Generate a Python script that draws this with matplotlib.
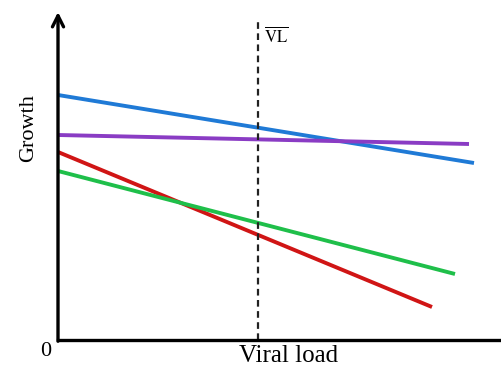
import matplotlib.pyplot as plt

# growth vs viral load, straight lines given by their end points
names = ["blue", "purple", "red", "green"]
x_start = [0.0, 0.0, 0.0, 0.0]
x_end = [10.4, 10.275, 9.35, 9.925]
y_start = [6.125, 5.125, 4.7, 4.225]
y_end = [4.425, 4.9, 0.825, 1.65]
colors = ["#1f7ad6", "#8a3cc4", "#d01515", "#1fbf4a"]
vl_mean = 5.0

plt.rcParams['font.family'] = ['Liberation Serif', 'DejaVu Serif']
plt.rcParams['mathtext.fontset'] = 'stix'

fig = plt.figure(figsize=(5.01, 3.68), dpi=100)
ax = fig.add_axes([58 / 501, 28 / 368, 443 / 501, 328 / 368])
ax.set_xlim(0, 11.075)
ax.set_ylim(0, 8.2)

for i in range(len(names)):
    ax.plot([x_start[i], x_end[i]], [y_start[i], y_end[i]], color=colors[i], lw=2.8, solid_capstyle='butt')

ax.axvline(vl_mean, ymax=0.97, color='#222222', lw=1.6, ls=(0, (3, 2)))
ax.text(vl_mean + 0.15, 7.6, r'$\overline{\mathrm{VL}}$', fontsize=12, va='center')

for s in ['top', 'right', 'left']:
    ax.spines[s].set_visible(False)
ax.spines['bottom'].set_linewidth(2.4)
ax.set_xticks([])
ax.set_yticks([])

# growth axis drawn as an arrow
ax.annotate('', xy=(0, 8.2), xytext=(0, -0.03),
            arrowprops=dict(arrowstyle='->', lw=2.4, color='black', mutation_scale=20,
                            shrinkA=0, shrinkB=0),
            annotation_clip=False)

ax.text(-0.3, -0.3, '0', fontsize=16, ha='center', va='center')
ax.set_xlabel('Viral load', fontsize=18)
ax.xaxis.set_label_coords(0.52, -0.015)
ax.xaxis.label.set_va('top')
ax.set_ylabel('Growth', fontsize=16)
ax.yaxis.set_label_coords(-0.045, 0.646)

fig.savefig('out.png', dpi=100)
